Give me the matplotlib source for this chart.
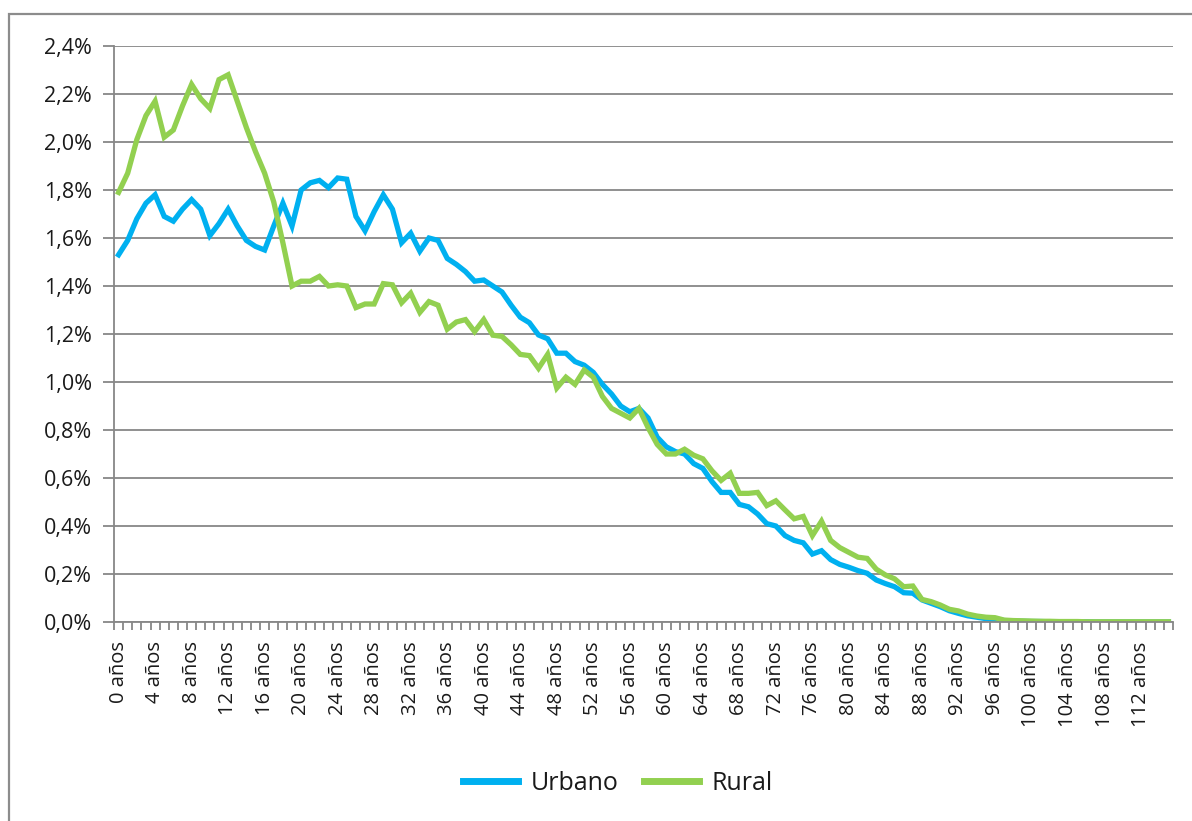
import numpy as np
import matplotlib.pyplot as plt
from matplotlib.patches import Rectangle
from matplotlib.ticker import FuncFormatter, FixedLocator

# Share of population by single year of age (%), urban vs rural
edades = list(range(0, 116))

urbano = [1.53, 1.59, 1.68, 1.745, 1.78, 1.69, 1.67, 1.72, 1.76, 1.72,
          1.61, 1.66, 1.72, 1.65, 1.59, 1.565, 1.55, 1.65, 1.745, 1.65,
          1.80, 1.83, 1.84, 1.81, 1.85, 1.845, 1.69, 1.63, 1.71, 1.78,
          1.72, 1.58, 1.62, 1.545, 1.60, 1.59, 1.515, 1.49, 1.46, 1.42,
          1.425, 1.40, 1.375, 1.32, 1.27, 1.247, 1.196, 1.18, 1.12, 1.12,
          1.085, 1.07, 1.04, 0.99, 0.95, 0.90, 0.876, 0.89, 0.85, 0.77,
          0.73, 0.71, 0.70, 0.66, 0.64, 0.585, 0.54, 0.54, 0.49, 0.48,
          0.45, 0.41, 0.40, 0.36, 0.34, 0.33, 0.283, 0.297, 0.26, 0.24,
          0.228, 0.214, 0.203, 0.175, 0.16, 0.147, 0.122, 0.12, 0.092, 0.078,
          0.064, 0.047, 0.036, 0.026, 0.02, 0.014, 0.011, 0.006, 0.004, 0.003,
          0.002, 0.002, 0.001, 0.001, 0.001, 0.001, 0.001, 0.0, 0.0, 0.0,
          0.0, 0.0, 0.0, 0.0, 0.0, 0.0]

rural = [1.79, 1.87, 2.01, 2.11, 2.17, 2.02, 2.05, 2.15, 2.24, 2.18,
         2.14, 2.26, 2.28, 2.17, 2.06, 1.96, 1.87, 1.75, 1.58, 1.40,
         1.42, 1.42, 1.44, 1.40, 1.405, 1.40, 1.31, 1.325, 1.325, 1.41,
         1.405, 1.33, 1.37, 1.29, 1.335, 1.32, 1.22, 1.25, 1.26, 1.21,
         1.26, 1.195, 1.19, 1.155, 1.115, 1.11, 1.057, 1.115, 0.975, 1.02,
         0.99, 1.05, 1.02, 0.94, 0.89, 0.87, 0.85, 0.89, 0.81, 0.74,
         0.70, 0.70, 0.72, 0.695, 0.68, 0.63, 0.59, 0.62, 0.536, 0.536,
         0.54, 0.485, 0.505, 0.467, 0.43, 0.44, 0.36, 0.42, 0.34, 0.31,
         0.29, 0.27, 0.265, 0.22, 0.196, 0.18, 0.147, 0.15, 0.094, 0.085,
         0.071, 0.053, 0.046, 0.033, 0.025, 0.02, 0.018, 0.008, 0.006, 0.005,
         0.004, 0.003, 0.003, 0.002, 0.002, 0.002, 0.001, 0.001, 0.001, 0.001,
         0.001, 0.001, 0.001, 0.001, 0.001, 0.001]

etiquetas = [f"{e} años" for e in edades]

plt.rcParams['font.family'] = ['Open Sans', 'DejaVu Sans']
gris = '#878787'
texto = '#1a1a1a'

fig = plt.figure(figsize=(11.92, 8.21), dpi=100)
ax = fig.add_axes([114/1192, 1 - 622/821, (1173 - 114)/1192, (622 - 46)/821])

# outer frame like the original chart box
fig.patches.append(Rectangle((9/1192, -0.05), 1.1, 1 - 14/821 + 0.05,
                             transform=fig.transFigure, fill=False,
                             edgecolor='#8c8c8c', linewidth=1.6))

ax.plot(edades, urbano, color='#00B0F0', linewidth=3.8, label='Urbano',
        solid_joinstyle='miter')
ax.plot(edades, rural, color='#92D050', linewidth=3.8, label='Rural',
        solid_joinstyle='miter')

ax.set_xlim(-0.5, len(edades) - 0.5)
ax.set_ylim(0, 2.4)

yt = np.arange(0, 2.41, 0.2)
ax.set_yticks(yt)
ax.yaxis.set_major_formatter(FuncFormatter(lambda v, p: f"{v:.1f}%".replace('.', ',')))
ax.grid(axis='y', color=gris, linewidth=1.3)
ax.set_axisbelow(True)

ax.xaxis.set_major_locator(FixedLocator(edades[::4]))
ax.set_xticklabels(etiquetas[::4], rotation=90)
ax.xaxis.set_minor_locator(FixedLocator(np.arange(-0.5, len(edades), 1)))
ax.tick_params(axis='x', which='major', length=0, pad=14, labelsize=14.5, labelcolor=texto)
ax.tick_params(axis='x', which='minor', length=6, width=1.3, color=gris, direction='out')
ax.tick_params(axis='y', length=8, width=1.3, color=gris, labelsize=15.5,
               labelcolor=texto, pad=8)

for s in ['top', 'right']:
    ax.spines[s].set_visible(False)
for s in ['left', 'bottom']:
    ax.spines[s].set_color(gris)
    ax.spines[s].set_linewidth(1.3)

leg = fig.legend(loc='center', bbox_to_anchor=(618/1192, 1 - 783/821), ncol=2,
                 frameon=False, fontsize=18, handlelength=2.2,
                 handletextpad=0.5, columnspacing=1.0)
for t in leg.get_texts():
    t.set_color(texto)
for h in leg.get_lines():
    h.set_linewidth(5)

fig.savefig('out.png', dpi=100)
